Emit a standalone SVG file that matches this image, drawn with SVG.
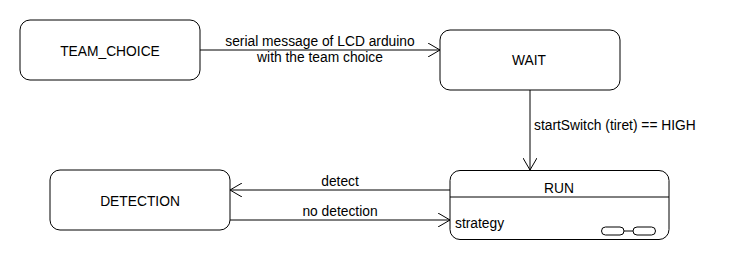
<svg xmlns="http://www.w3.org/2000/svg" width="730" height="260" viewBox="0 0 730 260">
  <defs>
    <style>
      .state { fill: #ffffff; stroke: #000000; stroke-width: 1; }
      .edge { fill: none; stroke: #000000; stroke-width: 1; }
      text { font-family: "Liberation Sans", Arial, sans-serif; font-size: 13.8px; fill: #000000; }
      .mid { text-anchor: middle; }
    </style>
    <marker id="open-arrow" viewBox="0 0 14 14" refX="12" refY="7" markerWidth="14" markerHeight="14" markerUnits="userSpaceOnUse" orient="auto">
      <path d="M0,0 L12,7 L0,14" fill="none" stroke="#000000" stroke-width="1"/>
    </marker>
  </defs>
  <rect width="730" height="260" fill="#ffffff"/>

  <g id="connectors">
    <g id="edge-team-wait">
      <line class="edge" x1="200" y1="50" x2="440" y2="50" marker-end="url(#open-arrow)"/>
      <text class="mid" x="320" y="46">serial message of LCD arduino</text>
      <text class="mid" x="320" y="62">with the team choice</text>
    </g>
    <g id="edge-wait-run">
      <line class="edge" x1="530" y1="90" x2="530" y2="170" marker-end="url(#open-arrow)"/>
      <text x="534" y="130">startSwitch (tiret) == HIGH</text>
    </g>
    <g id="edge-run-detection">
      <line class="edge" x1="450" y1="190" x2="230" y2="190" marker-end="url(#open-arrow)"/>
      <text class="mid" x="340" y="186">detect</text>
    </g>
    <g id="edge-detection-run">
      <line class="edge" x1="230" y1="220" x2="450" y2="220" marker-end="url(#open-arrow)"/>
      <text class="mid" x="340" y="216">no detection</text>
    </g>
  </g>

  <g id="team-choice">
    <rect class="state" x="20" y="20" width="180" height="60" rx="10" ry="10"/>
    <text class="mid" x="110" y="55.5">TEAM_CHOICE</text>
  </g>

  <g id="wait">
    <rect class="state" x="440" y="30" width="180" height="60" rx="10" ry="10"/>
    <text class="mid" x="529" y="65">WAIT</text>
  </g>

  <g id="detection">
    <rect class="state" x="50" y="170" width="180" height="60" rx="10" ry="10"/>
    <text class="mid" x="140" y="205.5">DETECTION</text>
  </g>

  <g id="run">
    <rect class="state" x="450" y="170.5" width="219" height="69" rx="10" ry="10"/>
    <line class="edge" x1="450" y1="197" x2="669" y2="197"/>
    <text class="mid" x="559" y="193">RUN</text>
    <text x="455" y="228">strategy</text>
    <!-- composite-state icon -->
    <rect class="state" x="601.5" y="227" width="22.5" height="8" rx="4" ry="4"/>
    <rect class="state" x="633" y="227" width="22.5" height="8" rx="4" ry="4"/>
    <line class="edge" x1="624" y1="231" x2="633" y2="231"/>
  </g>
</svg>
